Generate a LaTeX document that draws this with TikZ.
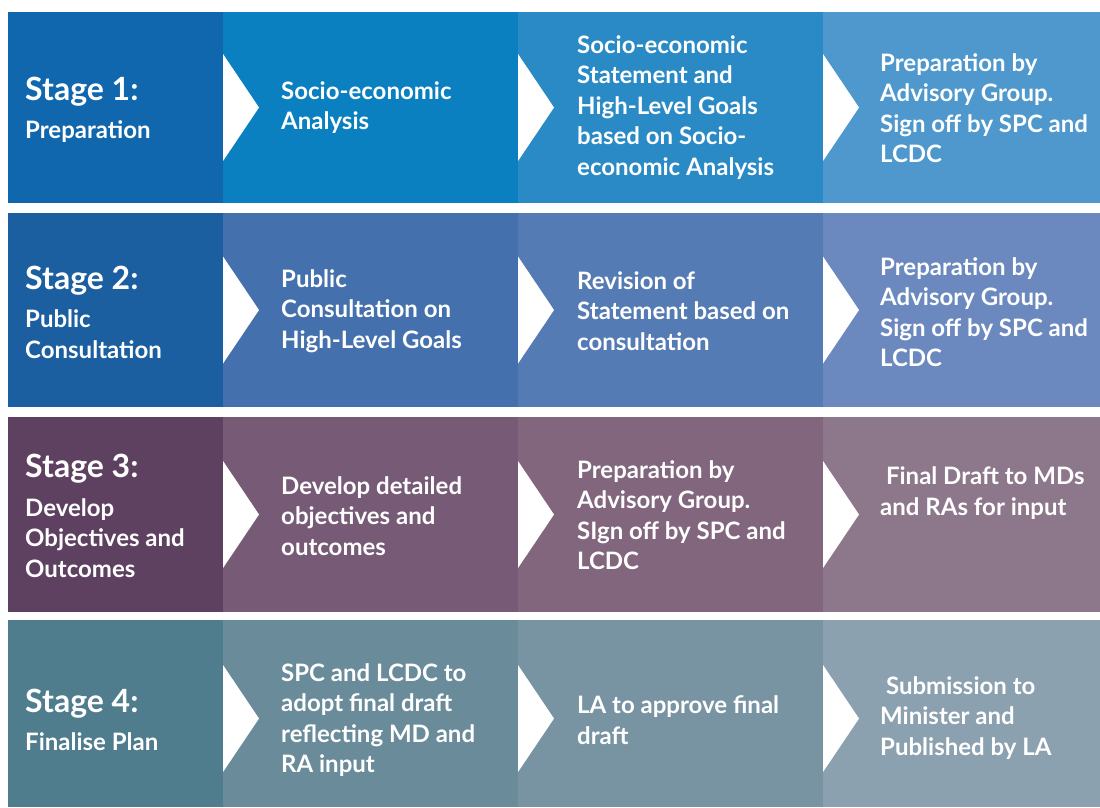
\documentclass[tikz,border=0pt]{standalone}
\usepackage{fontspec}
\setmainfont{Lato}
\usetikzlibrary{positioning}

\begin{document}
\begin{tikzpicture}[x=1pt, y=-1pt]
    % Define colours
    \definecolor{stageOneA}{HTML}{1167AD}
    \definecolor{stageOneB}{HTML}{0A80C0}
    \definecolor{stageOneC}{HTML}{2A8AC5}
    \definecolor{stageOneD}{HTML}{4E98CD}
    \definecolor{stageTwoA}{HTML}{1B5FA1}
    \definecolor{stageTwoB}{HTML}{4471AE}
    \definecolor{stageTwoC}{HTML}{557BB5}
    \definecolor{stageTwoD}{HTML}{6C89BF}
    \definecolor{stageThreeA}{HTML}{5E4161}
    \definecolor{stageThreeB}{HTML}{775B76}
    \definecolor{stageThreeC}{HTML}{81667D}
    \definecolor{stageThreeD}{HTML}{8D778B}
    \definecolor{stageFourA}{HTML}{4F7D8D}
    \definecolor{stageFourB}{HTML}{6A8B9A}
    \definecolor{stageFourC}{HTML}{7893A2}
    \definecolor{stageFourD}{HTML}{8BA1AF}

    % Define text styles
    \tikzset{
        cellText/.style={anchor=west, align=left, text=white, inner sep=0pt,
            font=\fontsize{24}{30.5}\selectfont\bfseries},
        stageText/.style={cellText},
    }
    \def\stageTitle#1{{\fontsize{32}{36}\selectfont #1}\\[8pt]}

    \useasboundingbox (0,0) rectangle (1100,807);

    % Draw the coloured cells of each stage
    \foreach \rowTop/\rowBot/\fillA/\fillB/\fillC/\fillD in {
        12/203/stageOneA/stageOneB/stageOneC/stageOneD,
        213/407/stageTwoA/stageTwoB/stageTwoC/stageTwoD,
        417/612/stageThreeA/stageThreeB/stageThreeC/stageThreeD,
        620/807/stageFourA/stageFourB/stageFourC/stageFourD}
    {
        \fill[\fillA] (8,\rowTop) rectangle (223,\rowBot);
        \fill[\fillB] (223,\rowTop) rectangle (518,\rowBot);
        \fill[\fillC] (518,\rowTop) rectangle (823,\rowBot);
        \fill[\fillD] (823,\rowTop) rectangle (1100,\rowBot);
    }

    % Draw the white chevrons between the cells
    \foreach \rowMid in {107.5,310,514.5,718.5}
        \foreach \x in {223,518,823}
            \fill[white] (\x,\rowMid-53.5) -- (\x+36,\rowMid) -- (\x,\rowMid+53.5) -- cycle;

    % Stage 1
    \node[stageText] (stageOne) at (25,110) {\stageTitle{Stage 1:}Preparation};
    \node[cellText] (analysis) at (281,107.5) {Socio-economic\\Analysis};
    \node[cellText] (statement) at (577,107.5) {Socio-economic\\Statement and\\High-Level Goals\\based on Socio-\\economic Analysis};
    \node[cellText] (signOffOne) at (880,108) {Preparation by\\Advisory Group.\\Sign off by SPC and\\LCDC};

    % Stage 2
    \node[stageText] (stageTwo) at (25,312) {\stageTitle{Stage 2:}Public\\Consultation};
    \node[cellText] (consultation) at (281,311) {Public\\Consultation on\\High-Level Goals};
    \node[cellText] (revision) at (577,311) {Revision of\\Statement based on\\consultation};
    \node[cellText] (signOffTwo) at (880,312) {Preparation by\\Advisory Group.\\Sign off by SPC and\\LCDC};

    % Stage 3
    \node[stageText] (stageThree) at (25,516) {\stageTitle{Stage 3:}Develop\\Objectives and\\Outcomes};
    \node[cellText] (objectives) at (281,516) {Develop detailed\\objectives and\\outcomes};
    \node[cellText] (signOffThree) at (577,515) {Preparation by\\Advisory Group.\\SIgn off by SPC and\\LCDC};
    \node[cellText] (finalDraft) at (880,493) {\ Final Draft to MDs\\and RAs for input};

    % Stage 4
    \node[stageText] (stageFour) at (25,720) {\stageTitle{Stage 4:}Finalise Plan};
    \node[cellText] (adopt) at (281,720) {SPC and LCDC to\\adopt final draft\\reflecting MD and\\RA input};
    \node[cellText] (approve) at (577,720) {LA to approve final\\draft};
    \node[cellText] (publish) at (880,718) {\ Submission to\\Minister and\\Published by LA};

\end{tikzpicture}
\end{document}
